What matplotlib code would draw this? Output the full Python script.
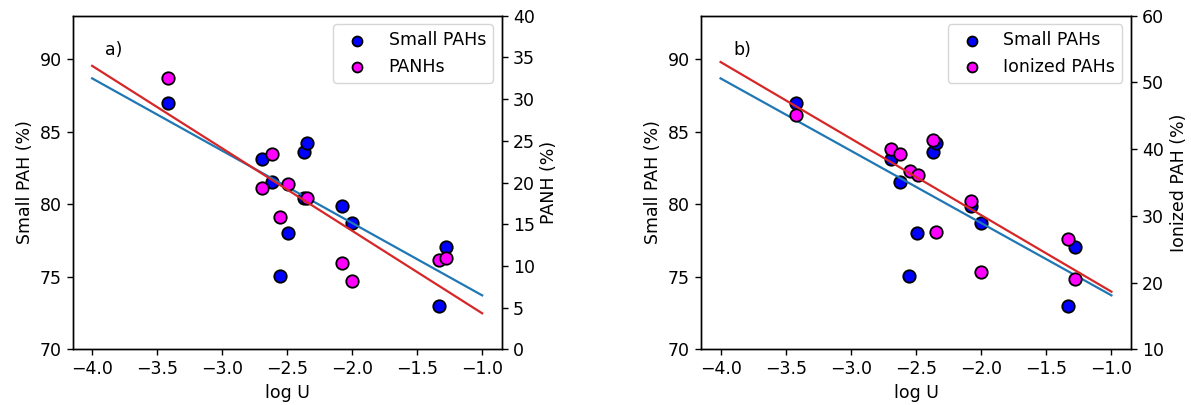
import numpy as np
import matplotlib
matplotlib.use("Agg")
import matplotlib.pyplot as plt

plt.rcParams["font.size"] = 12.5
plt.rcParams["axes.linewidth"] = 1.0
plt.rcParams["xtick.major.size"] = 4.5
plt.rcParams["ytick.major.size"] = 4.5
plt.rcParams["xtick.major.width"] = 1.0
plt.rcParams["ytick.major.width"] = 1.0

# ---------------------------
# Data
# ---------------------------

# panel a) Small PAHs (left axis) and PANHs (right axis)
logu_small_a = [-3.42, -2.69, -2.62, -2.37, -2.35, -2.37, -2.555, -2.49, -2.08, -2.00, -1.28, -1.33]
small_a = [87.0, 83.1, 81.55, 83.62, 84.22, 80.4, 75.07, 78.04, 79.88, 78.7, 77.08, 73.02]

logu_panh = [-3.42, -2.62, -2.69, -2.49, -2.35, -2.555, -2.08, -2.00, -1.33, -1.28]
panh = [32.5, 23.38, 19.38, 19.88, 18.1, 15.85, 10.38, 8.2, 10.75, 11.0]

# panel b) Small PAHs (left axis) and ionized PAHs (right axis)
logu_small_b = [-3.42, -2.69, -2.62, -2.37, -2.345, -2.55, -2.49, -2.08, -2.00, -1.28, -1.33]
small_b = [87.0, 83.1, 81.55, 83.62, 84.2, 75.05, 78.04, 79.88, 78.68, 77.08, 73.02]

logu_ion = [-3.42, -2.69, -2.62, -2.37, -2.545, -2.485, -2.08, -2.345, -2.00, -1.33, -1.28]
ionized = [45.1, 40.0, 39.27, 41.4, 36.77, 36.1, 32.2, 27.6, 21.54, 26.58, 20.6]

# linear fits, end points at log U = -4 and -1
fit_logu = [-4.0, -1.0]
fit_small = [88.68, 73.72]
fit_panh = [33.99, 4.32]
fit_ion = [53.06, 18.64]


def panel(ax, xs, ys, x2, y2, fit2, label2, ylabel2, yticks2, ylim2, tag):
    h1 = ax.scatter(xs, ys, s=80, c="blue", edgecolors="k", linewidths=1.3,
                    zorder=2, label="Small PAHs")
    ax.plot(fit_logu, fit_small, color="tab:blue", lw=1.6, zorder=3)
    ax.set_ylim(70, 93)
    ax.set_yticks([70, 75, 80, 85, 90])
    ax.set_xticks([-4.0, -3.5, -3.0, -2.5, -2.0, -1.5, -1.0])
    ax.set_xlim(-4.15, -0.85)
    ax.set_xlabel("log U")
    ax.set_ylabel("Small PAH (%)")
    ax.text(-3.9, 90.3, tag)

    ax2 = ax.twinx()
    h2 = ax2.scatter(x2, y2, s=80, c="magenta", edgecolors="k", linewidths=1.3,
                     zorder=2, label=label2)
    ax2.plot(fit_logu, fit2, color="tab:red", lw=1.6, zorder=3)
    ax2.set_ylim(*ylim2)
    ax2.set_yticks(yticks2)
    ax2.set_ylabel(ylabel2)
    ax2.legend(handles=[h1, h2], loc="upper right", scatterpoints=1,
               markerscale=0.8)
    return ax2


fig = plt.figure(figsize=(11.91, 4.05), dpi=100)
ax_a = fig.add_axes([0.0610, 0.1375, 0.3602, 0.8237])
ax_b = fig.add_axes([0.5886, 0.1375, 0.3610, 0.8237])

panel(ax_a, logu_small_a, small_a, logu_panh, panh, fit_panh,
      "PANHs", "PANH (%)", np.arange(0, 41, 5), (0, 40), "a)")
panel(ax_b, logu_small_b, small_b, logu_ion, ionized, fit_ion,
      "Ionized PAHs", "Ionized PAH (%)", np.arange(10, 61, 10), (10, 60), "b)")

fig.savefig("out.png", dpi=100)
